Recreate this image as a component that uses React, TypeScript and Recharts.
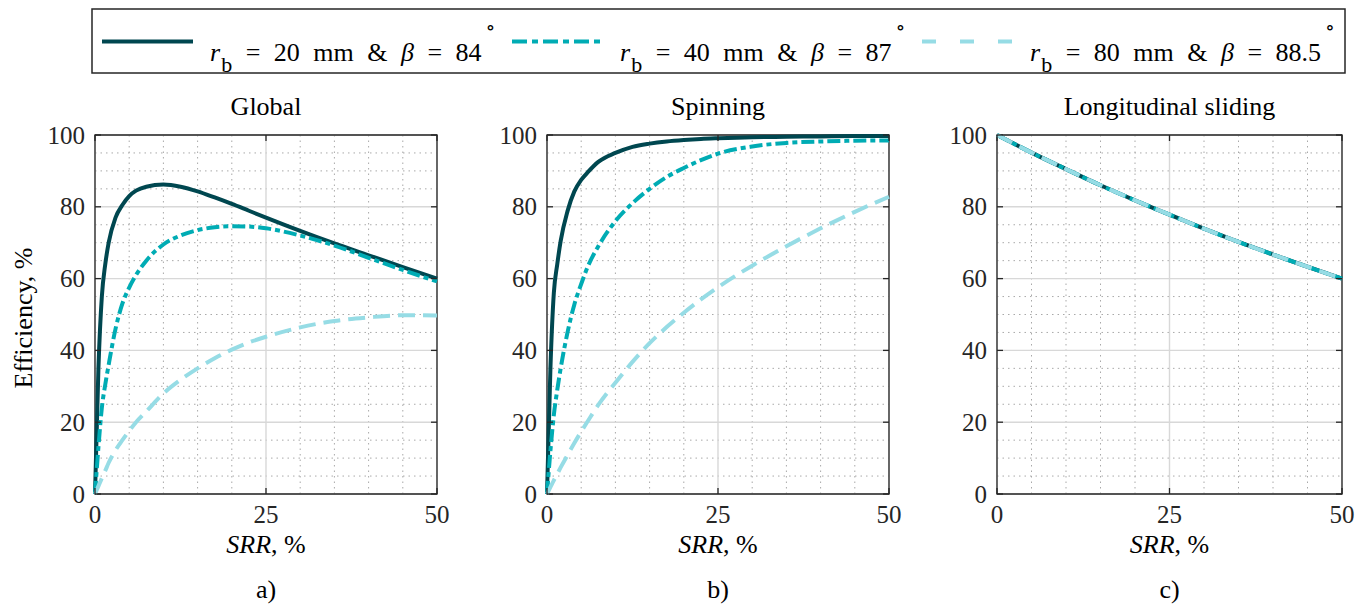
import React from 'react';
import { LineChart, Line, XAxis, YAxis, CartesianGrid, ReferenceArea } from 'recharts';

// ---------- data ----------
const srrFine = [0, 0.5, 1, 1.5, 2, 3, 4, 5, 6, 7.5, 10, 12.5, 15, 17.5, 20, 22.5, 25, 30, 35, 40, 45, 50];
const globalR20 = [0, 35, 55, 64, 70, 77, 80.5, 83, 84.5, 85.6, 86.2, 85.6, 84.3, 82.6, 80.8, 78.9, 77, 73.3, 69.8, 66.5, 63.2, 60];
const globalR40 = [0, 13, 24, 30.5, 36, 46, 53, 57.5, 61, 65, 69.5, 72, 73.5, 74.3, 74.6, 74.5, 74, 72, 69.2, 65.8, 62.4, 59.2];
const globalR80 = [0, 2.2, 4.4, 6.5, 8.7, 12.2, 15, 17.6, 20, 23, 28, 31.8, 35, 37.8, 40.2, 42.2, 43.8, 46.4, 48.2, 49.2, 49.8, 49.7];
const spinR20 = [0, 35, 56, 64, 70.5, 78.8, 84.3, 87.5, 89.7, 92.5, 95, 96.7, 97.6, 98.2, 98.6, 98.9, 99.1, 99.4, 99.5, 99.6, 99.7, 99.7];
const spinR40 = [0, 12, 22, 29, 35, 45, 52.8, 58.5, 63.5, 69, 76, 81, 85, 88.3, 90.8, 93, 94.8, 96.8, 97.8, 98.2, 98.4, 98.5];
const spinR80 = [0, 1.9, 3.8, 5.6, 7.4, 10.8, 14.2, 17.4, 20.4, 24.8, 31, 36.8, 42, 46.5, 50.5, 54.2, 57.6, 63.6, 69, 74, 78.6, 82.8];
const srrCoarse = [0, 5, 10, 15, 20, 25, 30, 35, 40, 45, 50];
const slidingR20 = [100, 95.1, 90.5, 86, 81.8, 77.8, 73.9, 70.2, 66.7, 63.3, 60];
const slidingR40 = [100, 95.1, 90.5, 86, 81.8, 77.8, 73.9, 70.2, 66.7, 63.3, 60];
const slidingR80 = [100, 95.1, 90.5, 86, 81.8, 77.8, 73.9, 70.2, 66.7, 63.3, 60];

const xTicks = [0, 25, 50];
const yTicks = [0, 20, 40, 60, 80, 100];
const xMinor = [5, 10, 15, 20, 30, 35, 40, 45];
const yMinor = [5, 10, 15, 25, 30, 35, 45, 50, 55, 65, 70, 75, 85, 90, 95];

const titles = ['Global', 'Spinning', 'Longitudinal sliding'];
const subLabels = ['a)', 'b)', 'c)'];
const legendItems = [
  { rb: '20', beta: '84' },
  { rb: '40', beta: '87' },
  { rb: '80', beta: '88.5' },
];

// ---------- style ----------
const C_DARK = '#004750';
const C_MID = '#00acb4';
const C_LIGHT = '#96dce5';
const AX = '#262626';
const FONT = '"Liberation Serif", Tinos, "Times New Roman", "DejaVu Serif", "Noto Serif", serif';
const PLOT_TOP = 135;
const PLOT_H = 359;
const TOP_M = 20;
const fs = (size: number, italic = false): React.CSSProperties => ({
  fontFamily: FONT,
  fontSize: size,
  fontStyle: italic ? 'italic' : 'normal',
});

const buildRows = (xs: number[], a: number[], b: number[], c: number[]) =>
  xs.map((x, i) => ({ x, r20: a[i], r40: b[i], r80: c[i] }));

const panels = [
  { rows: buildRows(srrFine, globalR20, globalR40, globalR80), left: 95, plotW: 342 },
  { rows: buildRows(srrFine, spinR20, spinR40, spinR80), left: 547, plotW: 342 },
  { rows: buildRows(srrCoarse, slidingR20, slidingR40, slidingR80), left: 997, plotW: 345 },
];

const YTick = (props: any) => {
  const { x, y, payload, plotW } = props;
  return (
    <g>
      <line x1={x} x2={x + 6} y1={y} y2={y} stroke={AX} strokeWidth={1.3} />
      <line x1={x + plotW - 6} x2={x + plotW} y1={y} y2={y} stroke={AX} strokeWidth={1.3} />
      <text x={x - 10} y={y} dy={8.5} textAnchor="end" style={fs(25)} fill={AX}>
        {payload.value}
      </text>
    </g>
  );
};

const XTick = (props: any) => {
  const { x, y, payload } = props;
  return (
    <g>
      <line x1={x} x2={x} y1={y} y2={y - 6} stroke={AX} strokeWidth={1.3} />
      <line x1={x} x2={x} y1={y - PLOT_H} y2={y - PLOT_H + 6} stroke={AX} strokeWidth={1.3} />
      <text x={x} y={y + 29} textAnchor="middle" style={fs(25)} fill={AX}>
        {payload.value}
      </text>
    </g>
  );
};

const gridGen = (vals: number[], key: 'xAxis' | 'yAxis') => (p: any) => {
  const ax = p[key];
  if (ax && typeof ax.scale === 'function') return vals.map((v) => ax.scale(v));
  const o = p.offset;
  return key === 'xAxis'
    ? vals.map((v) => o.left + (v / 50) * o.width)
    : vals.map((v) => o.top + o.height - (v / 100) * o.height);
};

function Panel({ rows, left, plotW }: { rows: any[]; left: number; plotW: number }) {
  const yW = 80;
  const rM = 30;
  return (
    <div style={{ position: 'absolute', left: left - yW, top: PLOT_TOP - TOP_M }}>
      <LineChart
        width={plotW + yW + rM}
        height={PLOT_H + TOP_M + 60}
        data={rows}
        margin={{ top: TOP_M, right: rM, left: 0, bottom: 0 }}
        style={{ fontFamily: FONT }}
      >
        <CartesianGrid
          stroke="#a9a9a9"
          strokeWidth={1}
          strokeDasharray="1.5 4"
          verticalCoordinatesGenerator={gridGen(xMinor, 'xAxis')}
          horizontalCoordinatesGenerator={gridGen(yMinor, 'yAxis')}
        />
        <CartesianGrid
          stroke="#d8d8d8"
          strokeWidth={1.4}
          verticalCoordinatesGenerator={gridGen(xTicks, 'xAxis')}
          horizontalCoordinatesGenerator={gridGen(yTicks, 'yAxis')}
        />
        <XAxis
          dataKey="x"
          type="number"
          domain={[0, 50]}
          ticks={xTicks}
          interval={0}
          tickSize={0}
          tickMargin={0}
          axisLine={false}
          tickLine={false}
          height={60}
          tick={<XTick />}
        />
        <YAxis
          type="number"
          domain={[0, 100]}
          ticks={yTicks}
          interval={0}
          tickSize={0}
          tickMargin={0}
          axisLine={false}
          tickLine={false}
          width={yW}
          tick={<YTick plotW={plotW} />}
        />
        <ReferenceArea x1={0} x2={50} y1={0} y2={100} fill="none" stroke={AX} strokeWidth={1.3} ifOverflow="visible" />
        <Line dataKey="r20" type="monotone" stroke={C_DARK} strokeWidth={4} dot={false} isAnimationActive={false} strokeLinejoin="round" />
        <Line dataKey="r40" type="monotone" stroke={C_MID} strokeWidth={4} strokeDasharray="13 4 5 4" dot={false} isAnimationActive={false} />
        <Line dataKey="r80" type="monotone" stroke={C_LIGHT} strokeWidth={4} strokeDasharray="17 8" dot={false} isAnimationActive={false} />
      </LineChart>
    </div>
  );
}

function LegendLabel({ x0, rb, beta }: { x0: number; rb: string; beta: string }) {
  return (
    <text x={x0} y={61} style={{ ...fs(26), wordSpacing: 7 }} fill="#000">
      <tspan style={fs(26, true)}>r</tspan>
      <tspan dx={1} dy={11} style={fs(22)}>b</tspan>
      <tspan dy={-11}>{` = ${rb} mm & `}</tspan>
      <tspan style={fs(26, true)}>β</tspan>
      <tspan>{` = ${beta}`}</tspan>
      <tspan dx={4} dy={-27} style={fs(20)}>∘</tspan>
    </text>
  );
}

export default function App() {
  return (
    <div style={{ position: 'absolute', left: 0, top: 0, width: 1370, height: 611, background: '#fff', fontFamily: FONT }}>
      {panels.map((p, i) => (
        <Panel key={i} rows={p.rows} left={p.left} plotW={p.plotW} />
      ))}
      <svg width={1370} height={611} style={{ position: 'absolute', left: 0, top: 0, pointerEvents: 'none' }}>
        {/* legend */}
        <rect x={92} y={9} width={1253} height={64} fill="#fff" stroke={AX} strokeWidth={1.5} />
        <line x1={102} x2={193} y1={41.5} y2={41.5} stroke={C_DARK} strokeWidth={4} />
        <line x1={512} x2={602} y1={41.5} y2={41.5} stroke={C_MID} strokeWidth={4} strokeDasharray="15 5 6 5" />
        <line x1={922} x2={1013} y1={41.5} y2={41.5} stroke={C_LIGHT} strokeWidth={4} strokeDasharray="14 24" />
        <LegendLabel x0={210} rb={legendItems[0].rb} beta={legendItems[0].beta} />
        <LegendLabel x0={620} rb={legendItems[1].rb} beta={legendItems[1].beta} />
        <LegendLabel x0={1030} rb={legendItems[2].rb} beta={legendItems[2].beta} />
        {/* titles, axis labels */}
        {panels.map((p, i) => {
          const cx = p.left + p.plotW / 2;
          return (
            <g key={i} fill="#000">
              <text x={cx} y={115} textAnchor="middle" style={fs(26)}>{titles[i]}</text>
              <text x={cx} y={553} textAnchor="middle" style={fs(26)}>
                <tspan style={fs(26, true)}>SRR</tspan>, %
              </text>
              <text x={cx} y={598} textAnchor="middle" style={fs(26)}>{subLabels[i]}</text>
            </g>
          );
        })}
        <text transform="translate(32,318) rotate(-90)" textAnchor="middle" style={fs(26)} fill="#000">
          Efficiency, %
        </text>
      </svg>
    </div>
  );
}
